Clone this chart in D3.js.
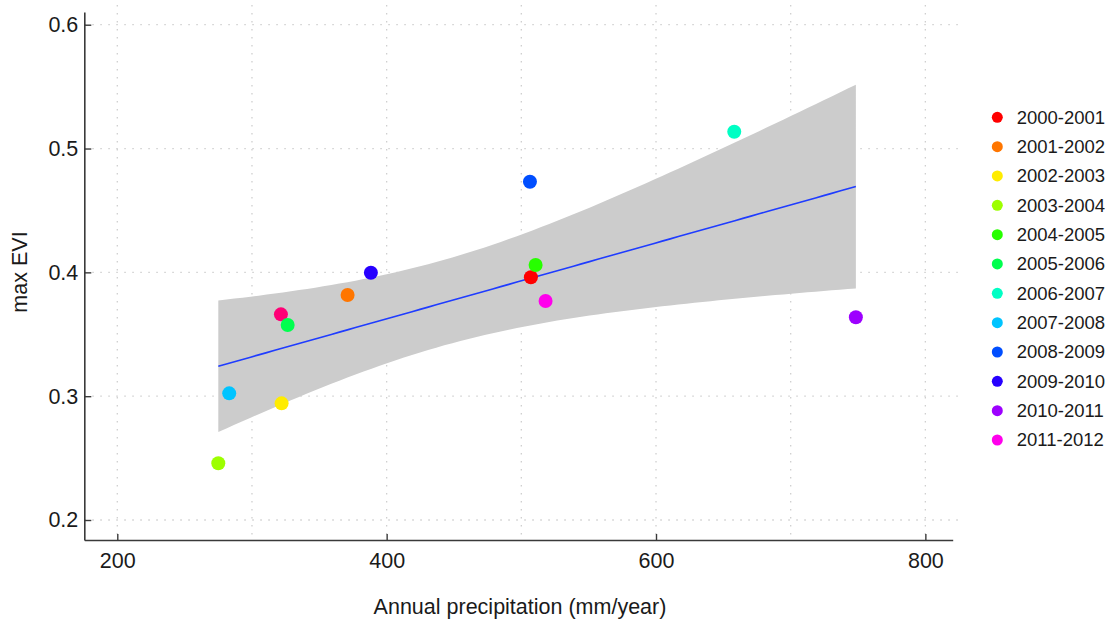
<!DOCTYPE html>
<html>
<head>
<meta charset="utf-8">
<script src="https://cdn.jsdelivr.net/npm/d3@7"></script>
<style>
  html, body { margin: 0; padding: 0; background: #ffffff; }
  svg { display: block; font-family: "Liberation Sans", Arial, Helvetica, sans-serif; }
</style>
</head>
<body>
<svg id="chart" width="1113" height="621"></svg>
<script>
// ---- data ----
const years = ["2012-2013", "2000-2001", "2001-2002", "2002-2003", "2003-2004", "2004-2005", "2005-2006",
               "2006-2007", "2007-2008", "2008-2009", "2009-2010", "2010-2011", "2011-2012"];
const precipitation = [321.5, 507.1, 371.0, 322.0, 275.0, 510.6, 326.5, 658.1, 283.1, 506.4, 388.3, 748.4, 518.0];
const maxEVI        = [0.3661, 0.3960, 0.3817, 0.2942, 0.2458, 0.4059, 0.3575, 0.5136, 0.3023, 0.4732, 0.3997, 0.3637, 0.3769];
const colors        = ["#FF0076", "#FF0000", "#FF7600", "#FFEC00", "#9DFF00", "#27FF00", "#00FF4E",
                       "#00FFC4", "#00C4FF", "#004EFF", "#2700FF", "#9D00FF", "#FF00EC"];
const legendYears = ["2000-2001", "2001-2002", "2002-2003", "2003-2004", "2004-2005", "2005-2006",
                     "2006-2007", "2007-2008", "2008-2009", "2009-2010", "2010-2011", "2011-2012"];
const xTicks = [200, 400, 600, 800];
const xGrid  = [200, 300, 400, 500, 600, 700, 800];
const yTicks = [0.2, 0.3, 0.4, 0.5, 0.6];
const xTitle = "Annual precipitation (mm/year)";
const yTitle = "max EVI";
const tCrit = 2.200985; // t quantile 0.975, df = 11

// ---- layout ----
const svg = d3.select("#chart");
const x = d3.scaleLinear().domain([175.5, 820.3]).range([84.3, 952.7]);
const y = d3.scaleLinear().domain([0.18385, 0.61026]).range([540, 12]);
const colorOf = d3.scaleOrdinal().domain(years).range(colors);

const pts = years.map((yr, i) => ({ year: yr, x: precipitation[i], y: maxEVI[i] }));

// grid
const grid = svg.append("g")
  .attr("stroke", "#cfcfcf").attr("stroke-width", 1.3).attr("stroke-dasharray", "1.5 6.5");
grid.selectAll("line.v").data(xGrid).join("line").attr("class", "v")
  .attr("x1", d => x(d)).attr("x2", d => x(d)).attr("y1", 5).attr("y2", 540);
grid.selectAll("line.h").data(yTicks).join("line").attr("class", "h")
  .attr("x1", 84.3).attr("x2", 958).attr("y1", d => y(d)).attr("y2", d => y(d));

// linear regression with 95% CI (as geom_smooth(method = "lm"))
const n = pts.length;
const mx = d3.mean(pts, d => d.x), my = d3.mean(pts, d => d.y);
const sxx = d3.sum(pts, d => (d.x - mx) ** 2);
const sxy = d3.sum(pts, d => (d.x - mx) * (d.y - my));
const b = sxy / sxx, a = my - b * mx;
const s = Math.sqrt(d3.sum(pts, d => (d.y - (a + b * d.x)) ** 2) / (n - 2));
const [xmin, xmax] = d3.extent(pts, d => d.x);
const fit = d3.range(80).map(i => {
  const xv = xmin + i * (xmax - xmin) / 79;
  const yv = a + b * xv;
  const se = s * Math.sqrt(1 / n + (xv - mx) ** 2 / sxx);
  return { x: xv, y: yv, lo: yv - tCrit * se, hi: yv + tCrit * se };
});

svg.append("path").datum(fit)
  .attr("fill", "#cccccc")
  .attr("d", d3.area().x(d => x(d.x)).y0(d => y(d.lo)).y1(d => y(d.hi)));
svg.append("path").datum(fit)
  .attr("fill", "none").attr("stroke", "#1f3cff").attr("stroke-width", 1.6)
  .attr("d", d3.line().x(d => x(d.x)).y(d => y(d.y)));

// points
svg.append("g").selectAll("circle").data(pts).join("circle")
  .attr("cx", d => x(d.x)).attr("cy", d => y(d.y)).attr("r", 7)
  .attr("fill", d => colorOf(d.year));

// axes
const axisColor = "#3a3a3a";
const gx = svg.append("g").attr("transform", "translate(0,540)")
  .call(d3.axisBottom(x).tickValues(xTicks).tickFormat(d3.format("d"))
        .tickSizeInner(-6).tickSizeOuter(0).tickPadding(13));
const gy = svg.append("g").attr("transform", "translate(84.3,0)")
  .call(d3.axisLeft(y).tickValues(yTicks).tickFormat(d3.format(".1f"))
        .tickSizeInner(-7).tickSizeOuter(0).tickPadding(6));
[gx, gy].forEach(g => {
  g.select(".domain").attr("stroke", axisColor).attr("stroke-width", 1.6);
  g.selectAll(".tick line").attr("stroke", axisColor).attr("stroke-width", 1.4);
  g.selectAll(".tick text").attr("fill", "#1a1a1a").attr("font-size", 21.5)
    .attr("font-family", "'Liberation Sans', Arial, sans-serif");
});

// axis titles
svg.append("text").attr("x", 520).attr("y", 614).attr("text-anchor", "middle")
  .attr("font-size", 21.5).attr("fill", "#1a1a1a").text(xTitle);
svg.append("text").attr("transform", "translate(27,272) rotate(-90)").attr("text-anchor", "middle")
  .attr("font-size", 21.5).attr("fill", "#1a1a1a").text(yTitle);

// legend
const lg = svg.append("g");
const legendY = d3.scalePoint().domain(legendYears).range([117.3, 440]);
const items = lg.selectAll("g").data(legendYears).join("g")
  .attr("transform", d => `translate(0,${legendY(d)})`);
items.append("circle").attr("cx", 997.3).attr("cy", 0).attr("r", 5.5).attr("fill", d => colorOf(d));
items.append("text").attr("x", 1016.7).attr("y", 0).attr("dy", "0.35em")
  .attr("font-size", 18.5).attr("fill", "#1a1a1a").text(d => d);
</script>
</body>
</html>
